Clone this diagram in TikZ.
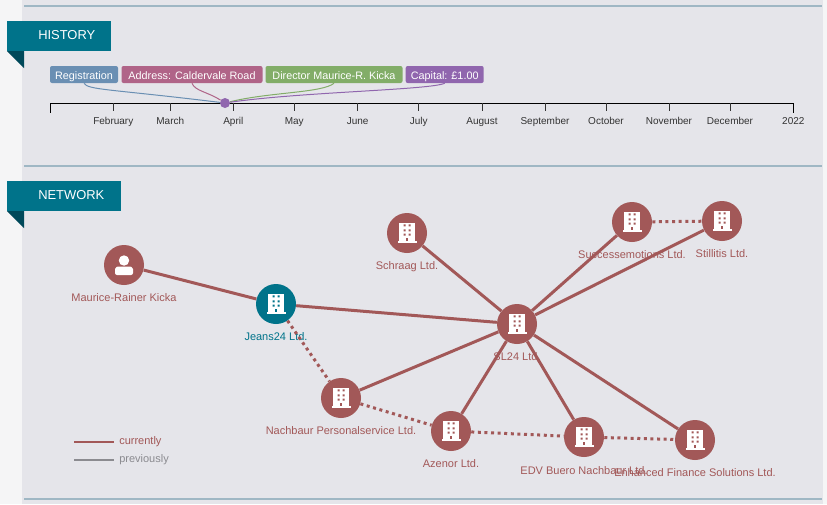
\documentclass[tikz,border=0pt]{standalone}
\usepackage{fontspec}
\setmainfont{Liberation Sans}
\usetikzlibrary{backgrounds}
\definecolor{panel}{HTML}{E5E5EA}
\definecolor{page}{HTML}{F5F5F6}
\definecolor{rule}{HTML}{9FB7C4}
\definecolor{teal}{HTML}{00738A}
\definecolor{tealdark}{HTML}{00495A}
\definecolor{link}{HTML}{A25858}
\definecolor{former}{HTML}{8B8B90}
\definecolor{tagblue}{HTML}{6A8FB3}
\definecolor{tagpink}{HTML}{B06488}
\definecolor{taggreen}{HTML}{82AD68}
\definecolor{tagpurple}{HTML}{9066AE}
\begin{document}
\begin{tikzpicture}[
  x=0.75pt, y=-0.75pt,
  banner/.style={font=\fontsize{9.7pt}{12pt}\selectfont, text=white, anchor=west, inner sep=0pt, text height=7pt, text depth=0pt},
  tag/.style={rectangle, rounded corners=1.5pt, fill=#1, text=white, minimum height=12.75pt, inner sep=0pt, text height=7pt, text depth=0pt, font=\fontsize{8.1pt}{10pt}\selectfont},
  month/.style={font=\fontsize{7.5pt}{9pt}\selectfont, text=black!80, inner sep=0pt, text height=5.5pt, text depth=0pt},
  company/.style={circle, fill=#1, minimum size=30pt, inner sep=0pt, path picture={
    \begin{scope}[shift={(path picture bounding box.center)}]
      \fill[white] (-8,-10) rectangle (8,9);
      \fill[white] (-9.5,8) rectangle (9.5,9.5);
      \fill[#1] (-3.5,-8.7) rectangle (-1.5,-6.7) (1.5,-8.7) rectangle (3.5,-6.7);
      \fill[#1] (-3.5,-3.7) rectangle (-1.5,-1.7) (1.5,-3.7) rectangle (3.5,-1.7);
      \fill[#1] (-3.5,0.7) rectangle (-1.5,2.7) (1.5,0.7) rectangle (3.5,2.7);
      \fill[#1] (-1,5) rectangle (1,8);
    \end{scope}}},
  person/.style={circle, fill=#1, minimum size=30pt, inner sep=0pt, path picture={
    \begin{scope}[shift={(path picture bounding box.center)}]
      \fill[white] (0,-4.5) circle (5.2);
      \fill[white, rounded corners=1.5pt] (-9,10) -- (-9,6) .. controls (-9,2) and (-6,1.5) .. (-4,1.5) -- (4,1.5) .. controls (6,1.5) and (9,2) .. (9,6) -- (9,10) -- cycle;
    \end{scope}}},
  caption/.style={below of=#1, node distance=24pt, inner sep=0pt, text=link, text height=6pt, text depth=0pt, font=\fontsize{8.25pt}{10pt}\selectfont},
  current/.style={draw=link, line width=2.25pt},
  past/.style={draw=link, line width=2.25pt, dash pattern=on 2.25pt off 2.7pt},
  hint/.style={anchor=west, inner sep=0pt, text height=6pt, text depth=0pt, font=\fontsize{8.25pt}{10pt}\selectfont}
]
\useasboundingbox (0,0) rectangle (827,504);
\fill[page] (0,0) rectangle (827,504);
\fill[panel] (22,0) rectangle (823,504);

% section rules
\draw[rule, line width=1.5pt] (24,6) -- (822,6);
\draw[rule, line width=1.5pt] (24,166) -- (822,166);
\draw[rule, line width=1.5pt] (24,499) -- (822,499);

% history
\fill[tealdark] (7,51) -- (24,51) -- (24,68) -- cycle;
\fill[teal] (7,21) rectangle (111,51);
\node[banner] (history) at (38,35) {HISTORY};

\node[tag=tagblue, minimum width=51pt] (registration) at (84,74.5) {Registration};
\node[tag=tagpink, minimum width=105.75pt] (address) at (192,74.5) {Address: Caldervale Road};
\node[tag=taggreen, minimum width=102.75pt] (director) at (334,74.5) {Director Maurice-R. Kicka};
\node[tag=tagpurple, minimum width=58.5pt] (capital) at (444.7,74.5) {Capital: £1.00};

\draw[black, line width=0.75pt] (50.5,112.5) -- (50.5,103) -- (793.3,103) -- (793.3,112.5);
\draw[black!80, line width=0.75pt] (113.3,103) -- ++(0,7.5);
\draw[black!80, line width=0.75pt] (170.3,103) -- ++(0,7.5);
\draw[black!80, line width=0.75pt] (233.3,103) -- ++(0,7.5);
\draw[black!80, line width=0.75pt] (294.3,103) -- ++(0,7.5);
\draw[black!80, line width=0.75pt] (357.7,103) -- ++(0,7.5);
\draw[black!80, line width=0.75pt] (418.7,103) -- ++(0,7.5);
\draw[black!80, line width=0.75pt] (482,103) -- ++(0,7.5);
\draw[black!80, line width=0.75pt] (545,103) -- ++(0,7.5);
\draw[black!80, line width=0.75pt] (606,103) -- ++(0,7.5);
\draw[black!80, line width=0.75pt] (669,103) -- ++(0,7.5);
\draw[black!80, line width=0.75pt] (730,103) -- ++(0,7.5);

\node[month] (february) at (113.3,120.4) {February};
\node[month] (march) at (170.3,120.4) {March};
\node[month] (april) at (233.3,120.4) {April};
\node[month] (may) at (294.3,120.4) {May};
\node[month] (june) at (357.7,120.4) {June};
\node[month] (july) at (418.7,120.4) {July};
\node[month] (august) at (482,120.4) {August};
\node[month] (september) at (545,120.4) {September};
\node[month] (october) at (606,120.4) {October};
\node[month] (november) at (669,120.4) {November};
\node[month] (december) at (730,120.4) {December};
\node[month] (year) at (793.3,120.4) {2022};

\node[circle, fill=tagpurple, minimum size=7.5pt, inner sep=0pt] (event) at (225,103) {};
\draw[tagblue, line width=0.75pt] (registration.south) .. controls (88,90) and (110,89) .. (event);
\draw[tagpink, line width=0.75pt] (address.south) .. controls (195,91) and (208,92) .. (event);
\draw[taggreen, line width=0.75pt] (director.south) .. controls (322,93) and (270,92) .. (event);
\draw[tagpurple, line width=0.75pt] (capital.south) .. controls (430,90) and (300,92) .. (event);

% network
\fill[tealdark] (7,211) -- (24,211) -- (24,228) -- cycle;
\fill[teal] (7,181) rectangle (121,211);
\node[banner] (network) at (38,195) {NETWORK};

\node[person=link] (kicka) at (124,265) {};
\node[company=teal] (jeans) at (276,304) {};
\node[company=link] (schraag) at (407,233) {};
\node[company=link] (sl24) at (517,324) {};
\node[company=link] (success) at (632,222) {};
\node[company=link] (stillitis) at (722,221) {};
\node[company=link] (nachbaur) at (341,398) {};
\node[company=link] (azenor) at (451,431) {};
\node[company=link] (edv) at (584,437) {};
\node[company=link] (enhanced) at (695,440) {};

\node[caption=kicka] (kickaname) {Maurice-Rainer Kicka};
\node[caption=jeans, text=teal] (jeansname) {Jeans24 Ltd.};
\node[caption=schraag] (schraagname) {Schraag Ltd.};
\node[caption=sl24] (sl24name) {SL24 Ltd.};
\node[caption=success] (successname) {Successemotions Ltd.};
\node[caption=stillitis] (stillitisname) {Stillitis Ltd.};
\node[caption=nachbaur] (nachbaurname) {Nachbaur Personalservice Ltd.};
\node[caption=azenor] (azenorname) {Azenor Ltd.};
\node[caption=edv, node distance=24.75pt] (edvname) {EDV Buero Nachbaur Ltd.};
\node[caption=enhanced] (enhancedname) {Enhanced Finance Solutions Ltd.};

\draw[current] (kicka) -- (jeans);
\draw[current] (jeans) -- (sl24);
\draw[current] (schraag) -- (sl24);
\draw[current] (success) -- (sl24);
\draw[current] (stillitis) -- (sl24);
\draw[current] (nachbaur) -- (sl24);
\draw[current] (azenor) -- (sl24);
\draw[current] (edv) -- (sl24);
\draw[current] (enhanced) -- (sl24);
\draw[past] (jeans) -- (nachbaur);
\draw[past] (nachbaur) -- (azenor);
\draw[past] (azenor) -- (edv);
\draw[past] (edv) -- (enhanced);
\draw[past] (success) -- (stillitis);

% legend
\coordinate (nowstart) at (74,441.7);
\coordinate (nowend) at (114,441.7);
\coordinate (thenstart) at (74,459.7);
\coordinate (thenend) at (114,459.7);
\draw[link, line width=1.5pt] (nowstart) -- (nowend);
\draw[former, line width=1.5pt] (thenstart) -- (thenend);
\node[hint, text=link] (nowlabel) at (119,440.7) {currently};
\node[hint, text=former] (thenlabel) at (119,458.7) {previously};
\end{tikzpicture}
\end{document}
